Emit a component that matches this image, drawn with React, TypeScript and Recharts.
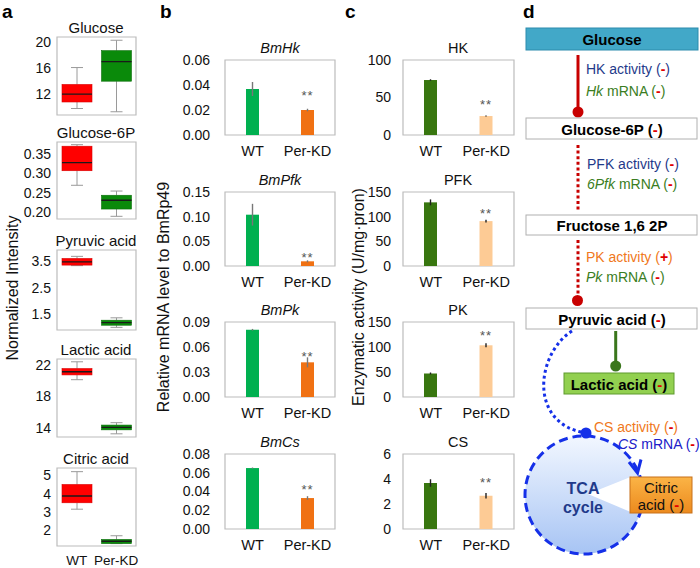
import React from 'react';
import { ComposedChart, BarChart, Bar, XAxis, YAxis, ReferenceArea, ErrorBar } from 'recharts';

const FONT = '"Liberation Sans", Arial, Helvetica, sans-serif';

// --- data ---
const groups = ['WT', 'Per-KD'];

// panel a: metabolite boxplots, each row = [min, q1, median, q3, max]
const metabolites = ['Glucose', 'Glucose-6P', 'Pyruvic acid', 'Lactic acid', 'Citric acid'];
const boxWT = [
  [9.8, 10.8, 12.0, 13.5, 16.1],
  [0.269, 0.307, 0.328, 0.371, 0.375],
  [3.33, 3.35, 3.47, 3.6, 3.68],
  [20.1, 20.7, 21.1, 21.5, 22.35],
  [3.15, 3.5, 3.87, 4.5, 5.2],
];
const boxKD = [
  [9.3, 14.0, 17.0, 18.7, 20.3],
  [0.188, 0.207, 0.23, 0.243, 0.254],
  [1.0, 1.08, 1.18, 1.27, 1.36],
  [13.3, 13.8, 14.1, 14.4, 14.7],
  [1.27, 1.27, 1.4, 1.5, 1.7],
];
const boxTicks = [[12, 16, 20], [0.2, 0.25, 0.3, 0.35], [1.5, 2.5, 3.5], [14, 18, 22], [2, 3, 4, 5]];
const boxDomains = [[8.8, 20.8], [0.181, 0.382], [0.9, 3.92], [12.9, 22.7], [1.14, 5.4]];
const boxDigits = [0, 2, 1, 0, 0];

// panel b: relative mRNA level
const genes = ['BmHk', 'BmPfk', 'BmPk', 'BmCs'];
const mrnaWT = [0.0368, 0.104, 0.0807, 0.065];
const mrnaWTErr = [0.0056, 0.022, 0.001, 0.0006];
const mrnaKD = [0.02, 0.0095, 0.0416, 0.033];
const mrnaKDErr = [0.001, 0.002, 0.006, 0.002];
const mrnaTicks = [[0, 0.02, 0.04, 0.06], [0, 0.05, 0.1, 0.15], [0, 0.03, 0.06, 0.09], [0, 0.02, 0.04, 0.06, 0.08]];

// panel c: enzymatic activity
const enzymes = ['HK', 'PFK', 'PK', 'CS'];
const enzWT = [73.3, 129, 47, 3.68];
const enzWTErr = [1, 6, 2, 0.3];
const enzKD = [25.3, 91, 103.4, 2.66];
const enzKDErr = [0.6, 3, 4, 0.22];
const enzTicks = [[0, 50, 100], [0, 50, 100, 150], [0, 50, 100, 150], [0, 2, 4, 6]];

const signif = ['', '**'];

// --- layout ---
const aFrames = [[37, 115], [142, 219], [250, 330], [359, 437], [468, 546]];
const rowFrames = [[60, 135], [192, 266], [322, 397], [454, 529]];
const bStarLift = [17, 6, 8, 11];
const cStarLift = [14, 10, 12, 16];

const BoxShape = (props: any) => {
  const { x, y, width, height, payload } = props;
  const [mn, q1, med, q3, mx] = payload.stats;
  const k = height / (q3 - q1);
  const py = (v: number) => y + height - (v - q1) * k;
  const cx = x + width / 2;
  const cap = width * 0.4;
  const isWT = payload.group === 'WT';
  return (
    <g>
      <line x1={cx} x2={cx} y1={py(mx)} y2={y} stroke="#9a9a9a" />
      <line x1={cx} x2={cx} y1={y + height} y2={py(mn)} stroke="#9a9a9a" />
      <line x1={cx - cap / 2} x2={cx + cap / 2} y1={py(mx)} y2={py(mx)} stroke="#9a9a9a" />
      <line x1={cx - cap / 2} x2={cx + cap / 2} y1={py(mn)} y2={py(mn)} stroke="#9a9a9a" />
      <rect x={x} y={y} width={width} height={height} fill={isWT ? '#FF0000' : '#0A8A0A'} stroke={isWT ? '#d80000' : '#0a6e0a'} strokeWidth={0.6} />
      <line x1={x} x2={x + width} y1={py(med)} y2={py(med)} stroke="#1a1a1a" strokeWidth={1.3} />
    </g>
  );
};

function BoxPanel({ idx }: { idx: number }) {
  const [fy0, fy1] = aFrames[idx];
  const showX = idx === metabolites.length - 1;
  const yW = 57;
  const frameW = 79;
  const top = 9;
  const xH = showX ? 21 : 4;
  const data = groups.map((g, i) => {
    const s = i === 0 ? boxWT[idx] : boxKD[idx];
    return { group: g, box: [s[1], s[3]], stats: s };
  });
  const [d0, d1] = boxDomains[idx];
  return (
    <div style={{ position: 'absolute', left: 0, top: fy0 - top }}>
      <ComposedChart width={yW + frameW + 3} height={top + (fy1 - fy0) + xH} data={data} margin={{ top, right: 3, bottom: showX ? 0 : xH, left: 0 }}>
        <XAxis dataKey="group" hide={!showX} height={showX ? xH : 0} axisLine={false} tickLine={false} tickSize={0} tickMargin={9} interval={0} tick={{ fontSize: 13.5, fill: '#111' }} />
        <YAxis type="number" domain={[d0, d1]} allowDataOverflow ticks={boxTicks[idx]} interval={0} width={yW} axisLine={false} tickLine={false} tickSize={0} tickMargin={6} tick={{ fontSize: 14, fill: '#111' }} tickFormatter={(v: number) => v.toFixed(boxDigits[idx])} />
        <ReferenceArea y1={d0} y2={d1} fill="none" stroke="#bcbcbc" strokeWidth={1.2} ifOverflow="visible" />
        <Bar dataKey="box" barSize={30} shape={BoxShape} isAnimationActive={false} />
      </ComposedChart>
    </div>
  );
}

const makeBarShape = (colors: string[], lift: number) => (props: any) => {
  const { x, y, width, height, payload } = props;
  const i = groups.indexOf(payload.group);
  return (
    <g>
      <rect x={x} y={y} width={width} height={height} fill={colors[i]} />
      {payload.sig ? (
        <text x={x + width / 2} y={y - lift + 7} textAnchor="middle" fontSize={13} fill="#555" letterSpacing={1}>
          {payload.sig}
        </text>
      ) : null}
    </g>
  );
};

interface BarPanelProps {
  left: number;
  frame: number[];
  frameW: number;
  yW: number;
  gap: number;
  wt: number;
  wtErr: number;
  kd: number;
  kdErr: number;
  ticks: number[];
  digits: number;
  colors: string[];
  errColor: string;
  lift: number;
}

function BarPanel(p: BarPanelProps) {
  const [fy0, fy1] = p.frame;
  const top = 10;
  const xH = 28;
  const data = groups.map((g, i) => ({
    group: g,
    value: i === 0 ? p.wt : p.kd,
    err: i === 0 ? p.wtErr : p.kdErr,
    sig: signif[i],
  }));
  const dMax = p.ticks[p.ticks.length - 1];
  return (
    <div style={{ position: 'absolute', left: p.left - p.yW, top: fy0 - top }}>
      <BarChart width={p.yW + p.frameW + 3} height={top + (fy1 - fy0) + xH} data={data} margin={{ top, right: 3, bottom: 0, left: 0 }}>
        <XAxis dataKey="group" height={xH} axisLine={false} tickLine={false} tickSize={0} tickMargin={11} interval={0} tick={{ fontSize: 14.5, fill: '#111' }} />
        <YAxis type="number" domain={[0, dMax]} allowDataOverflow ticks={p.ticks} interval={0} width={p.yW} axisLine={false} tickLine={false} tickSize={0} tickMargin={p.gap} tick={{ fontSize: 14, fill: '#111' }} tickFormatter={(v: number) => v.toFixed(p.digits)} />
        <ReferenceArea y1={0} y2={dMax} fill="none" stroke="#bcbcbc" strokeWidth={1.2} ifOverflow="visible" />
        <Bar dataKey="value" barSize={13} shape={makeBarShape(p.colors, p.lift)} isAnimationActive={false}>
          <ErrorBar dataKey="err" width={0} stroke={p.errColor} strokeWidth={1.4} direction="y" isAnimationActive={false} />
        </Bar>
      </BarChart>
    </div>
  );
}

const NAVY = '#1F3A8A';
const GREEN_T = '#3A7D22';
const ORANGE_T = '#F07820';
const RED = '#E00000';
const BLUE = '#1530E8';

const Minus = ({ fill }: { fill: string }) => (
  <>
    <tspan fill={fill}>(</tspan>
    <tspan fill={RED} fontWeight="bold">-</tspan>
    <tspan fill={fill}>)</tspan>
  </>
);

function Overlay() {
  const rot = (x: number, y: number) => `rotate(-90 ${x} ${y})`;
  return (
    <svg width={700} height={568} style={{ position: 'absolute', left: 0, top: 0, fontFamily: FONT }}>
      <defs>
        <linearGradient id="tcaFill" x1="0" y1="0" x2="0" y2="1">
          <stop offset="0" stopColor="#F2F7FF" />
          <stop offset="1" stopColor="#A7C4F4" />
        </linearGradient>
        <linearGradient id="citFill" x1="0" y1="0" x2="0" y2="1">
          <stop offset="0" stopColor="#FBB446" />
          <stop offset="1" stopColor="#EC8A1E" />
        </linearGradient>
      </defs>

      {/* panel letters */}
      <g fontWeight="bold" fontSize={19} fill="#000">
        <text x={2} y={18}>a</text>
        <text x={160} y={18}>b</text>
        <text x={345} y={18}>c</text>
        <text x={523} y={18}>d</text>
      </g>

      {/* axis titles */}
      <g fontSize={16} fill="#111" textAnchor="middle" dominantBaseline="central">
        <text x={12} y={288} transform={rot(12, 288)}>Normalized Intensity</text>
        <text x={163} y={297} transform={rot(163, 297)}>Relative mRNA level to BmRp49</text>
        <text x={358} y={297} transform={rot(358, 297)}>Enzymatic activity (U/mg·pron)</text>
      </g>

      {/* panel titles */}
      <g fontSize={15} fill="#111" textAnchor="middle" dominantBaseline="central">
        {metabolites.map((m, i) => (
          <text key={m} x={96} y={aFrames[i][0] - 10}>{m}</text>
        ))}
        {genes.map((g, i) => (
          <text key={g} x={280} y={rowFrames[i][0] - 12} fontStyle="italic" fontSize={14.5}>{g}</text>
        ))}
        {enzymes.map((e, i) => (
          <text key={e} x={458} y={rowFrames[i][0] - 12} fontSize={14.5}>{e}</text>
        ))}
      </g>

      {/* panel d: pathway */}
      <rect x={526} y={28} width={172} height={22} fill="#42A8C8" stroke="#2D8CAD" />
      <text x={612} y={39.5} textAnchor="middle" dominantBaseline="central" fontWeight="bold" fontSize={15} fill="#000">Glucose</text>

      <line x1={578} x2={578} y1={55} y2={108} stroke="#C80000" strokeWidth={3} />
      <circle cx={578} cy={112} r={5.5} fill="#C80000" />
      <g fontSize={14} dominantBaseline="central">
        <text x={586} y={69} fill={NAVY}>HK activity <Minus fill={NAVY} /></text>
        <text x={586} y={91} fill={GREEN_T}><tspan fontStyle="italic">Hk</tspan> mRNA <Minus fill={GREEN_T} /></text>
        <text x={587} y={164} fill={NAVY}>PFK activity <Minus fill={NAVY} /></text>
        <text x={587} y={184} fill={GREEN_T}><tspan fontStyle="italic">6Pfk</tspan> mRNA <Minus fill={GREEN_T} /></text>
        <text x={586} y={257} fill={ORANGE_T}>PK activity <tspan>(</tspan><tspan fill={RED} fontWeight="bold">+</tspan><tspan>)</tspan></text>
        <text x={586} y={277} fill={GREEN_T}><tspan fontStyle="italic">Pk</tspan> mRNA <Minus fill={GREEN_T} /></text>
        <text x={594} y={427} fill={ORANGE_T}>CS activity <Minus fill={ORANGE_T} /></text>
        <text x={618} y={443.5} fill="#2020C8"><tspan fontStyle="italic">CS</tspan> mRNA <Minus fill="#2020C8" /></text>
      </g>

      <rect x={526} y={118} width={171} height={21} fill="#fff" stroke="#b0b0b0" />
      <text x={612} y={129} textAnchor="middle" dominantBaseline="central" fontWeight="bold" fontSize={15} fill="#000">Glucose-6P <Minus fill="#000" /></text>

      <line x1={578} x2={578} y1={145} y2={211} stroke="#C80000" strokeWidth={3} strokeDasharray="3 2.6" />

      <rect x={526} y={215} width={171} height={20} fill="#fff" stroke="#b0b0b0" />
      <text x={612} y={225.5} textAnchor="middle" dominantBaseline="central" fontWeight="bold" fontSize={15} fill="#000">Fructose 1,6 2P</text>

      <line x1={578} x2={578} y1={240} y2={296} stroke="#C80000" strokeWidth={3} strokeDasharray="3 2.6" />
      <circle cx={577.5} cy={300.5} r={5.5} fill="#C80000" />

      <rect x={526} y={308} width={171} height={21} fill="#fff" stroke="#b0b0b0" />
      <text x={612} y={319} textAnchor="middle" dominantBaseline="central" fontWeight="bold" fontSize={15} fill="#000">Pyruvic acid <Minus fill="#000" /></text>

      <line x1={615.7} x2={615.7} y1={331} y2={361} stroke="#3A761C" strokeWidth={3} />
      <circle cx={615.7} cy={366} r={5.5} fill="#3A761C" />
      <rect x={564} y={373} width={110} height={21} fill="#92D050" stroke="#5E9A2E" />
      <text x={619} y={384} textAnchor="middle" dominantBaseline="central" fontWeight="bold" fontSize={15} fill="#000">Lactic acid <Minus fill="#000" /></text>

      <path d="M572,331 C536,354 528,424 586,433" fill="none" stroke={BLUE} strokeWidth={3} strokeDasharray="3 3" />

      <circle cx={584} cy={495} r={59} fill="url(#tcaFill)" stroke={BLUE} strokeWidth={3} strokeDasharray="9 5" />
      <polygon points="588,494 633,476 633,513" fill="#fff" />
      <polyline points="629,462 637.5,473 641,459.5" fill="none" stroke={BLUE} strokeWidth={3} />
      <circle cx={586} cy={433} r={5.5} fill={BLUE} />
      <g fontWeight="bold" fontSize={16} fill={NAVY} textAnchor="middle" dominantBaseline="central">
        <text x={583} y={488}>TCA</text>
        <text x={583} y={507}>cycle</text>
      </g>

      <rect x={630} y={477} width={62} height={36} fill="url(#citFill)" stroke="#C8701A" />
      <g fontSize={15} fill="#111" textAnchor="middle" dominantBaseline="central">
        <text x={661} y={487}>Citric</text>
        <text x={661} y={504}>acid <Minus fill="#111" /></text>
      </g>
    </svg>
  );
}

export default function App() {
  return (
    <div style={{ position: 'absolute', left: 0, top: 0, width: 700, height: 568, background: '#fff', fontFamily: FONT, overflow: 'hidden' }}>
      {metabolites.map((m, i) => (
        <BoxPanel key={m} idx={i} />
      ))}
      {genes.map((g, i) => (
        <BarPanel
          key={g}
          left={225}
          frame={rowFrames[i]}
          frameW={110}
          yW={60}
          gap={15}
          wt={mrnaWT[i]}
          wtErr={mrnaWTErr[i]}
          kd={mrnaKD[i]}
          kdErr={mrnaKDErr[i]}
          ticks={mrnaTicks[i]}
          digits={2}
          colors={['#00B050', '#F07113']}
          errColor="#777"
          lift={bStarLift[i]}
        />
      ))}
      {enzymes.map((e, i) => (
        <BarPanel
          key={e}
          left={403}
          frame={rowFrames[i]}
          frameW={111}
          yW={50}
          gap={12}
          wt={enzWT[i]}
          wtErr={enzWTErr[i]}
          kd={enzKD[i]}
          kdErr={enzKDErr[i]}
          ticks={enzTicks[i]}
          digits={0}
          colors={['#38760F', '#FDCB95']}
          errColor="#222"
          lift={cStarLift[i]}
        />
      ))}
      <Overlay />
    </div>
  );
}
